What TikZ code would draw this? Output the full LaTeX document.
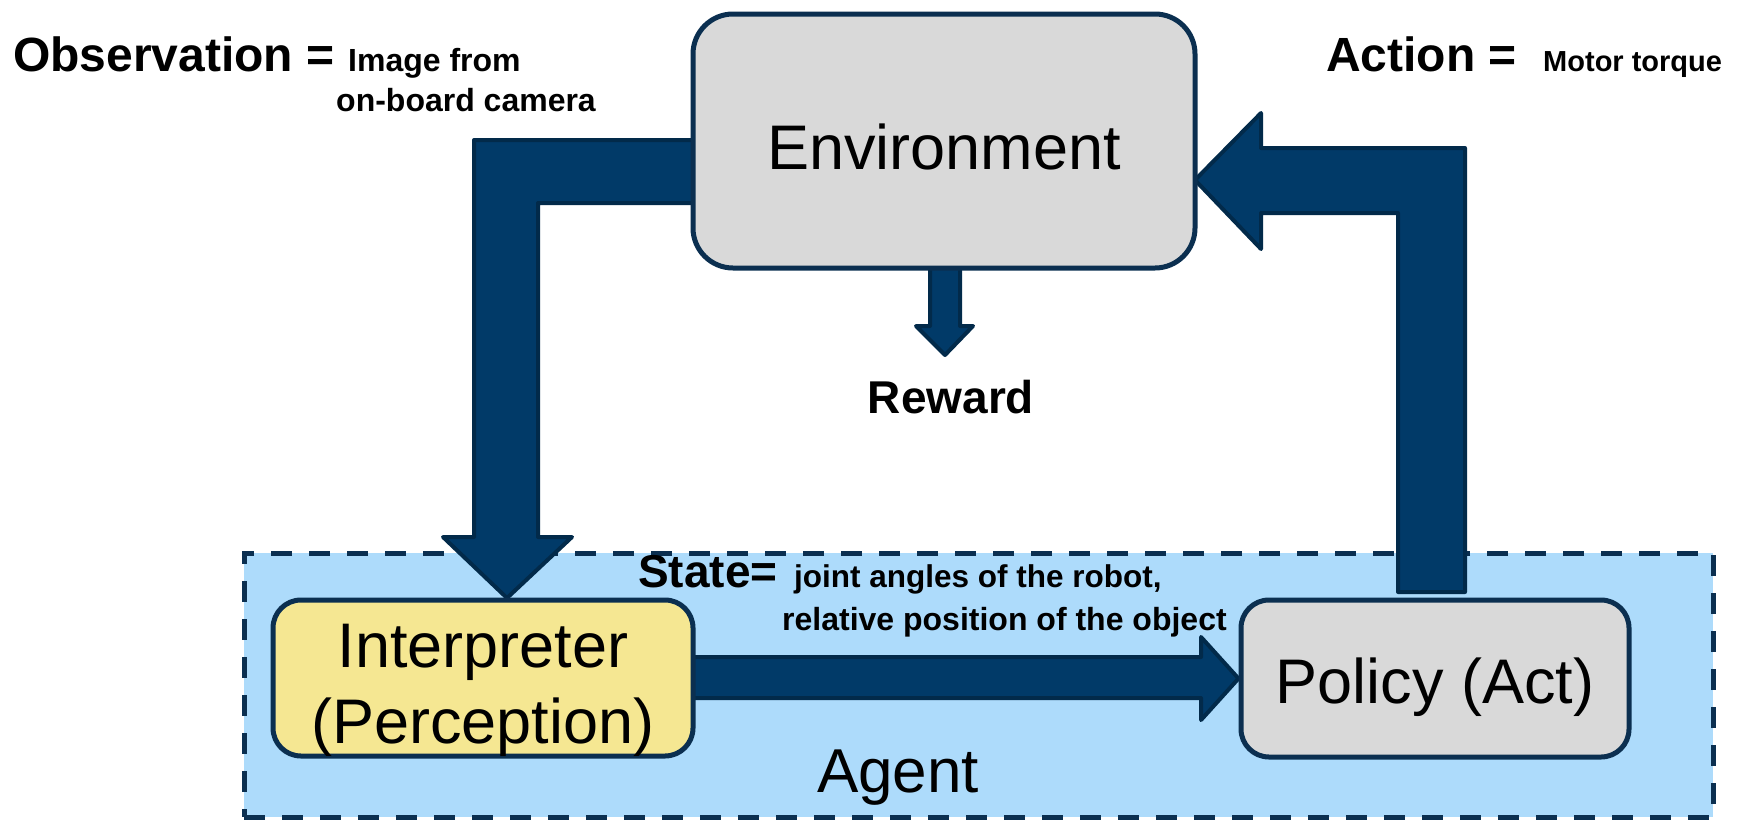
\documentclass[tikz,border=0pt]{standalone}
\usepackage{fontspec}
\setmainfont{Liberation Sans}
\usetikzlibrary{backgrounds}
\definecolor{arrowfill}{HTML}{013A68}
\definecolor{arrowline}{HTML}{022A4A}
\definecolor{navyline}{HTML}{0B2F50}
\definecolor{envgray}{HTML}{D9D9D9}
\definecolor{interpyellow}{HTML}{F5E792}
\definecolor{agentblue}{HTML}{ADDBFB}
\newcommand\setfs[1]{\fontsize{#1}{#1}\selectfont}
\pgfdeclarelayer{agentlayer}
\pgfdeclarelayer{arrowlayer}
\pgfsetlayers{agentlayer,arrowlayer,main}
\begin{document}
\begin{tikzpicture}[x=1pt,y=-1pt,
  boxstyle/.style={draw=navyline, line width=5pt, rounded corners=#1, inner sep=0pt},
  blockarrow/.style={fill=arrowfill, draw=arrowline, line width=4pt, line join=round},
  agentbox/.style={draw=navyline, fill=agentblue, line width=5pt, dash pattern=on 21pt off 17pt, inner sep=0pt},
  boldtxt/.style={inner sep=0pt, font=\bfseries\setfs{#1}},
  plaintxt/.style={inner sep=0pt, font=\setfs{#1}}]
\useasboundingbox (0,0) rectangle (1747,820);

% boxes
\node[boxstyle=40pt, fill=envgray, minimum width=502pt, minimum height=254pt,
      text height=56pt, text depth=0pt, font=\setfs{63}] (env) at (944,141) {Environment};
\node[boxstyle=28pt, fill=interpyellow, minimum width=420pt, minimum height=156pt] (interp) at (483,678) {};
\node[boxstyle=28pt, fill=envgray, minimum width=388pt, minimum height=157pt,
      text height=49pt, text depth=0pt, font=\setfs{63}] (policy) at (1435,678.5) {Policy (Act)};

\begin{pgfonlayer}{agentlayer}
\node[agentbox, minimum width=1469pt, minimum height=264pt] (agent) at (978.5,685) {};
\end{pgfonlayer}

% labels inside boxes
\node[plaintxt=63, anchor=base] (interpA) at (483,667) {Interpreter};
\node[plaintxt=63, anchor=base] (interpB) at (483,743) {(Perception)};
\node[plaintxt=62, anchor=base] (agentlbl) at (898,792) {Agent};

% block arrows
\begin{pgfonlayer}{arrowlayer}
% observation: environment -> interpreter
\coordinate (obsTip) at (507,598);
\draw[blockarrow] (693,140) -- (474,140) -- (474,537) -- (443,537) -- (obsTip)
   -- (572,537) -- (538,537) -- (538,203) -- (693,203) -- cycle;
% action: policy -> environment
\coordinate (actTip) at (1195,180);
\draw[blockarrow] (1398,592) -- (1398,213) -- (1261,213) -- (1261,249) -- (actTip)
   -- (1261,113) -- (1261,148) -- (1465,148) -- (1465,592) -- cycle;
% state: interpreter -> policy
\draw[blockarrow] (690,657) -- (1201,657) -- (1201,637) -- (policy.west)
   -- (1201,720) -- (1201,698) -- (690,698) -- cycle;
% reward
\coordinate (rewTip) at (945,355);
\draw[blockarrow] (930,262) -- (930,326) -- (916,326) -- (rewTip)
   -- (973,326) -- (960,326) -- (960,262) -- cycle;
\end{pgfonlayer}

% texts
\node[boldtxt=48, anchor=base west] (obsA) at (13,71) {Observation =};
\node[boldtxt=32, anchor=base west] (obsB) at (348,71) {Image from};
\node[boldtxt=32, anchor=base west] (obsC) at (336,111) {on-board camera};
\node[boldtxt=48, anchor=base west] (actA) at (1326,71) {Action =};
\node[boldtxt=29, anchor=base west] (actB) at (1543,71) {Motor torque};
\node[boldtxt=46, anchor=base] (reward) at (951,413) {Reward};
\node[boldtxt=46, anchor=base west] (stateA) at (638,587) {State=};
\node[boldtxt=31.5, anchor=base west] (stateB) at (794,587) {joint angles of the robot,};
\node[boldtxt=32, anchor=base west] (stateC) at (782,630) {relative position of the object};
\end{tikzpicture}
\end{document}
